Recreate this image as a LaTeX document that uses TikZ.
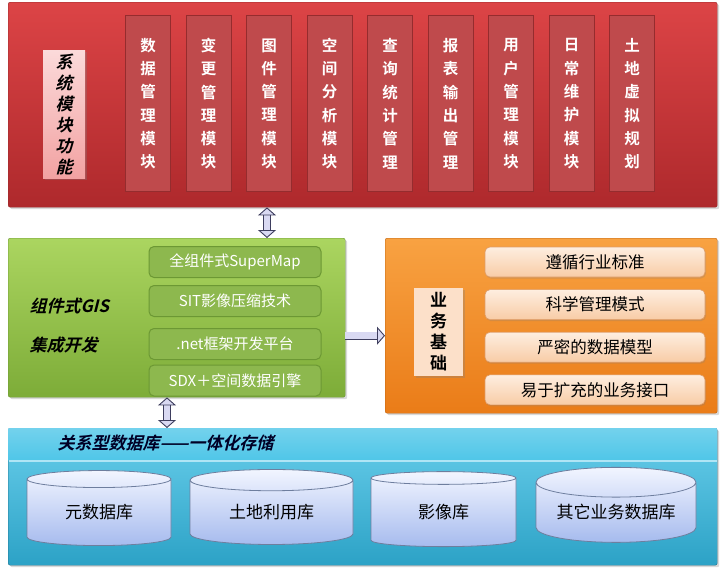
\documentclass[tikz,border=0pt]{standalone}
\usepackage{fontspec}
\setmainfont{Noto Sans CJK SC}[BoldFont={Noto Sans CJK SC Bold}]
\newfontfamily\slantfont{Noto Sans CJK SC Bold}[FakeSlant=0.25]
\usetikzlibrary{arrows.meta, positioning, shapes.geometric, shadows}

\definecolor{redtop}{HTML}{DC4446}
\definecolor{redbot}{HTML}{AE292C}
\definecolor{redbar}{HTML}{BF4A4C}
\definecolor{redbarline}{HTML}{952C2E}
\definecolor{pinktop}{HTML}{FBDADA}
\definecolor{pinkbot}{HTML}{F2A2A2}
\definecolor{greentop}{HTML}{ABD560}
\definecolor{greenbot}{HTML}{7DAC38}
\definecolor{greenitem}{HTML}{8DB84E}
\definecolor{greenline}{HTML}{6C9834}
\definecolor{orangetop}{HTML}{F8A242}
\definecolor{orangebot}{HTML}{EA7C18}
\definecolor{peachtop}{HTML}{FEEEE0}
\definecolor{peachbot}{HTML}{F8CCA6}
\definecolor{peachline}{HTML}{DE9C68}
\definecolor{bluetop}{HTML}{4FC6E8}
\definecolor{bluebot}{HTML}{2CA2C6}
\definecolor{cyltop}{HTML}{F2F5FF}
\definecolor{cylbot}{HTML}{A6BBEE}
\definecolor{cylline}{HTML}{6E7E9E}
\definecolor{lav}{HTML}{D9D9F2}
\definecolor{arrline}{HTML}{3E3E5E}

\begin{document}
\begin{tikzpicture}[x=1pt, y=-1pt, >=latex, node distance=12pt]
  \tikzstyle{panel}=[rounded corners=2pt, anchor=north west, drop shadow={opacity=0.3, shadow xshift=2pt, shadow yshift=-2pt}]
  \tikzstyle{modbox}=[draw=redbarline, line width=1.4pt, fill=redbar, anchor=north west, minimum width=45pt, minimum height=176pt, inner sep=0pt, align=center, text=white, font=\bfseries\fontsize{15.5}{23.3}\selectfont]
  \tikzstyle{labelbox}=[inner sep=0pt, align=center, drop shadow={opacity=0.3, shadow xshift=1.5pt, shadow yshift=-1.5pt}]
  \tikzstyle{gitem}=[draw=greenline, line width=1pt, fill=greenitem, rounded corners=5pt, minimum width=172pt, minimum height=31pt, inner sep=0pt, text=white, font=\fontsize{15}{18}\selectfont]
  \tikzstyle{oitem}=[draw=peachline, line width=0.6pt, top color=peachtop, bottom color=peachbot, rounded corners=5pt, minimum width=220pt, minimum height=30pt, inner sep=0pt, font=\fontsize{16.5}{20}\selectfont, drop shadow={opacity=0.25, shadow xshift=1pt, shadow yshift=-1.5pt}]
  \tikzstyle{dbase}=[cylinder, shape border rotate=90, aspect=0.25, draw=cylline, line width=0.8pt, top color=cyltop, bottom color=cylbot, minimum height=75pt, inner sep=0pt, font=\fontsize{17}{20}\selectfont]
  \tikzstyle{fatarrow}=[draw=arrline, line width=0.9pt, double=lav, double distance=6.5pt, {Triangle[length=8pt, width=18pt, fill=lav]}-{Triangle[length=8pt, width=18pt, fill=lav]}]

  \useasboundingbox (0,0) rectangle (728,568);

  % system modules
  \node[panel, draw=redbarline, top color=redtop, bottom color=redbot, minimum width=709pt, minimum height=205pt] (sys) at (8,2) {};
  \node[labelbox, top color=pinktop, bottom color=pinkbot, minimum width=42pt, minimum height=128pt, font=\slantfont\fontsize{17}{21}\selectfont] (systitle) at (64,114) {系\\统\\模\\块\\功\\能};
  \foreach \txt [count=\i] in {{数\\据\\管\\理\\模\\块}, {变\\更\\管\\理\\模\\块}, {图\\件\\管\\理\\模\\块}, {空\\间\\分\\析\\模\\块}, {查\\询\\统\\计\\管\\理}, {报\\表\\输\\出\\管\\理}, {用\\户\\管\\理\\模\\块}, {日\\常\\维\\护\\模\\块}, {土\\地\\虚\\拟\\规\\划}}
    \node[modbox] (m\i) at ({125+60.5*(\i-1)},15) {\txt};

  % component GIS
  \node[panel, draw=greenline, top color=greentop, bottom color=greenbot, minimum width=337pt, minimum height=159pt] (gis) at (8,238) {};
  \node[anchor=west, font=\slantfont\fontsize{17}{20}\selectfont] (gislabel) at (26,306) {组件式GIS};
  \node[anchor=west, font=\slantfont\fontsize{17}{20}\selectfont] (devlabel) at (26,345) {集成开发};
  \node[gitem] (sm) at (235,262) {全组件式SuperMap};
  \node[gitem, below=7pt of sm] (sit) {SIT影像压缩技术};
  \node[gitem, below=11pt of sit] (net) {.net框架开发平台};
  \node[gitem, below=4.5pt of net] (sdx) {SDX＋空间数据引擎};

  % business base
  \node[panel, draw=orangebot!80!black, top color=orangetop, bottom color=orangebot, minimum width=332pt, minimum height=175pt] (biz) at (385,238) {};
  \node[labelbox, fill=peachtop!60!peachbot, minimum width=49pt, minimum height=88pt, font=\bfseries\fontsize{17}{21}\selectfont] (bizlabel) at (438.5,332) {业\\务\\基\\础};
  \node[oitem] (std) at (595,262) {遵循行业标准};
  \node[oitem, below=of std] (mgmt) {科学管理模式};
  \node[oitem, below=of mgmt] (model) {严密的数据模型};
  \node[oitem, below=of model] (iface) {易于扩充的业务接口};

  % database
  \node[panel, draw=bluebot!70!black, top color=bluetop!85!white, bottom color=bluebot, minimum width=709pt, minimum height=137pt] (db) at (8,428) {};
  \node[anchor=north west, top color=bluetop!80!white, bottom color=bluetop, minimum width=708pt, minimum height=32pt, inner sep=0pt] (band) at (8.5,428.5) {};
  \draw[white!55!bluetop, line width=1.5pt] (band.south west) -- (band.south east);
  \node[anchor=west, text=black!85!blue, font=\slantfont\fontsize{17}{20}\selectfont] (dbtitle) at (54,443) {关系型数据库——一体化存储};
  \node[dbase, minimum width=144pt] (meta) at (99,512.5) {元数据库};
  \node[dbase, minimum width=163pt] (land) at (271.5,512.5) {土地利用库};
  \node[dbase, minimum width=145pt] (img) at (443.5,512.5) {影像库};
  \node[dbase, minimum width=160pt] (other) at (616,512.5) {其它业务数据库};

  \draw[fatarrow] ([xshift=259pt]sys.south west) -- ([xshift=259pt]gis.north west);
  \draw[fatarrow] ([xshift=159pt]gis.south west) -- ([xshift=159pt]db.north west);
  \draw[fatarrow, -{Triangle[length=8pt, width=18pt, fill=lav]}] ([yshift=-18pt]gis.east) -- ([yshift=-18pt]gis.east -| biz.west);
\end{tikzpicture}
\end{document}
